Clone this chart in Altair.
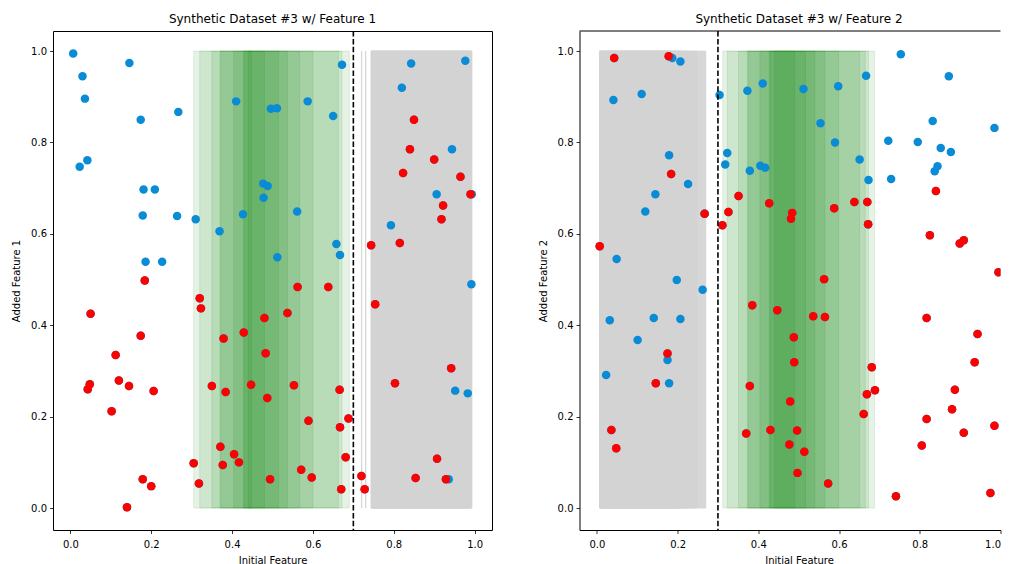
import altair as alt
import pandas as pd

# ---------------- Panel 1: Feature 1 ----------------
p1_blue_x = [0.007, 0.030, 0.036, 0.042, 0.023, 0.146, 0.174, 0.267, 0.181, 0.209,
             0.179, 0.264, 0.186, 0.227, 0.310, 0.369, 0.410, 0.427, 0.496, 0.511,
             0.477, 0.488, 0.478, 0.561, 0.587, 0.512, 0.650, 0.672, 0.658, 0.667,
             0.843, 0.820, 0.793, 0.977, 0.944, 0.906, 0.993, 0.992, 0.952, 0.983,
             0.936]
p1_blue_y = [0.995, 0.945, 0.896, 0.761, 0.747, 0.974, 0.850, 0.867, 0.697, 0.697,
             0.640, 0.639, 0.539, 0.539, 0.632, 0.606, 0.890, 0.643, 0.874, 0.875,
             0.710, 0.705, 0.679, 0.649, 0.890, 0.549, 0.858, 0.970, 0.578, 0.554,
             0.973, 0.920, 0.619, 0.979, 0.785, 0.687, 0.687, 0.490, 0.257, 0.251,
             0.063]
p1_red_x = [0.184, 0.050, 0.174, 0.112, 0.048, 0.043, 0.120, 0.145, 0.206, 0.102,
            0.179, 0.200, 0.140, 0.305, 0.318, 0.320, 0.323, 0.379, 0.429, 0.483,
            0.350, 0.384, 0.447, 0.553, 0.666, 0.487, 0.589, 0.688, 0.667, 0.371,
            0.405, 0.377, 0.417, 0.681, 0.571, 0.597, 0.494, 0.670, 0.720, 0.728,
            0.480, 0.537, 0.562, 0.638, 0.744, 0.754, 0.815, 0.850, 0.840, 0.900,
            0.823, 0.965, 0.990, 0.922, 0.918, 0.803, 0.942, 0.907, 0.854, 0.929]
p1_red_y = [0.498, 0.425, 0.377, 0.335, 0.271, 0.260, 0.279, 0.267, 0.256, 0.212,
            0.063, 0.048, 0.002, 0.098, 0.054, 0.459, 0.437, 0.371, 0.384, 0.339,
            0.267, 0.254, 0.270, 0.269, 0.259, 0.241, 0.191, 0.196, 0.177, 0.134,
            0.118, 0.094, 0.100, 0.111, 0.084, 0.067, 0.063, 0.041, 0.070, 0.041,
            0.416, 0.427, 0.484, 0.484, 0.575, 0.446, 0.580, 0.850, 0.785, 0.763,
            0.733, 0.725, 0.687, 0.662, 0.632, 0.273, 0.306, 0.108, 0.066, 0.063]
p1_green_lo = [0.305, 0.320, 0.350, 0.370, 0.372, 0.404, 0.428, 0.430, 0.440]
p1_green_hi = [0.690, 0.672, 0.663, 0.600, 0.567, 0.537, 0.515, 0.480, 0.448]
p1_gray_lo = [0.720, 0.730, 0.744, 0.744, 0.745, 0.746]
p1_gray_hi = [0.721, 0.731, 0.993, 0.990, 0.985, 0.993]
p1_threshold = 0.7

# ---------------- Panel 2: Feature 2 ----------------
p2_blue_x = [0.187, 0.207, 0.041, 0.111, 0.304, 0.373, 0.411, 0.512, 0.598, 0.667,
             0.554, 0.590, 0.722, 0.179, 0.323, 0.318, 0.405, 0.417, 0.379, 0.651,
             0.673, 0.729, 0.226, 0.145, 0.120, 0.049, 0.198, 0.262, 0.032, 0.141,
             0.207, 0.101, 0.175, 0.023, 0.179, 0.753, 0.872, 0.832, 0.985, 0.795,
             0.852, 0.877, 0.844, 0.837, 0.672, 0.267]
p2_blue_y = [0.985, 0.977, 0.893, 0.906, 0.904, 0.913, 0.929, 0.917, 0.923, 0.946,
             0.842, 0.800, 0.804, 0.772, 0.777, 0.752, 0.749, 0.745, 0.738, 0.763,
             0.718, 0.720, 0.709, 0.687, 0.649, 0.545, 0.499, 0.478, 0.411, 0.416,
             0.414, 0.368, 0.324, 0.291, 0.273, 0.993, 0.945, 0.847, 0.832, 0.801,
             0.788, 0.779, 0.748, 0.737, 0.621, 0.644]
p2_red_x = [0.043, 0.178, 0.184, 0.351, 0.267, 0.326, 0.311, 0.427, 0.484, 0.481,
            0.588, 0.638, 0.670, 0.672, 0.007, 0.175, 0.146, 0.036, 0.048, 0.488,
            0.489, 0.379, 0.681, 0.689, 0.669, 0.661, 0.479, 0.370, 0.430, 0.496,
            0.477, 0.514, 0.497, 0.573, 0.741, 0.840, 0.825, 0.899, 0.909, 0.995,
            0.943, 0.817, 0.936, 0.887, 0.880, 0.817, 0.805, 0.909, 0.985, 0.975,
            0.385, 0.447, 0.536, 0.565, 0.563]
p2_red_y = [0.985, 0.989, 0.731, 0.683, 0.644, 0.648, 0.619, 0.667, 0.646, 0.633,
            0.656, 0.670, 0.670, 0.621, 0.573, 0.338, 0.273, 0.171, 0.131, 0.374,
            0.319, 0.267, 0.308, 0.258, 0.249, 0.206, 0.233, 0.163, 0.171, 0.170,
            0.139, 0.123, 0.077, 0.054, 0.026, 0.694, 0.597, 0.579, 0.586, 0.516,
            0.381, 0.416, 0.319, 0.259, 0.216, 0.195, 0.137, 0.165, 0.180, 0.033,
            0.444, 0.433, 0.420, 0.418, 0.501]
p2_green_lo = [0.312, 0.323, 0.351, 0.373, 0.375, 0.404, 0.427, 0.429, 0.440]
p2_green_hi = [0.688, 0.673, 0.665, 0.651, 0.599, 0.565, 0.540, 0.517, 0.490]
p2_gray_lo = [0.007, 0.007, 0.010, 0.025, 0.007]
p2_gray_hi = [0.270, 0.248, 0.227, 0.207, 0.188]
p2_threshold = 0.3

TICKS = [0.0, 0.2, 0.4, 0.6, 0.8, 1.0]
Y_DOMAIN = [-0.048, 1.044]

BLUE = "#0a8bd6"
RED = "#ff0000"
GREEN = "#008000"
GRAY = "#d3d3d3"
FONT = "DejaVu Sans"

PLOT_H = 499


def panel(title, ytitle, bx, by, rx, ry, glo, ghi, slo, shi, thr,
          x_domain, width, cut_right=False, extra=0.0):
    pts = pd.DataFrame({
        "x": bx + rx,
        "y": by + ry,
        "label": ["blue"] * len(bx) + ["red"] * len(rx),
    })
    green = pd.DataFrame({"lo": glo, "hi": ghi})
    gray = pd.DataFrame({"lo": slo, "hi": shi})
    thr_df = pd.DataFrame({"t": [thr]})

    xs = alt.Scale(domain=x_domain, nice=False, zero=False)
    ys = alt.Scale(domain=Y_DOMAIN, nice=False, zero=False)
    if cut_right:
        xax = alt.Axis(values=TICKS, format=".1f", title="Initial Feature", grid=False,
                       labelFlush=True, domain=True, domainColor="black", domainWidth=1,
                       titleX=width / 2 + extra, titleAlign="center")
        yax = alt.Axis(values=TICKS, format=".1f", title=ytitle, grid=False,
                       domain=True, domainColor="black", domainWidth=1)
    else:
        xax = alt.Axis(values=TICKS, format=".1f", title="Initial Feature", grid=False)
        yax = alt.Axis(values=TICKS, format=".1f", title=ytitle, grid=False)

    green_layer = alt.Chart(green).mark_rect(
        fill=GREEN, fillOpacity=0.1, stroke=GREEN, strokeOpacity=0.1, strokeWidth=1
    ).encode(
        x=alt.X("lo:Q", scale=xs, axis=xax),
        x2="hi:Q",
        y=alt.YDatum(0, scale=ys, axis=yax),
        y2=alt.Y2Datum(1),
    )
    gray_layer = alt.Chart(gray).mark_rect(
        fill=GRAY, fillOpacity=0.9, stroke=GRAY, strokeOpacity=0.7, strokeWidth=1
    ).encode(
        x=alt.X("lo:Q", scale=xs, axis=xax),
        x2="hi:Q",
        y=alt.YDatum(0, scale=ys, axis=yax),
        y2=alt.Y2Datum(1),
    )
    blue_layer = alt.Chart(pts).mark_circle(
        size=72, opacity=1, color=BLUE, clip=True
    ).encode(
        x=alt.X("x:Q", scale=xs, axis=xax),
        y=alt.Y("y:Q", scale=ys, axis=yax),
    )
    red_layer = alt.Chart(pts).transform_filter(alt.datum.label == "red").mark_circle(
        size=72, opacity=1, color=RED, clip=True
    ).encode(
        x=alt.X("x:Q", scale=xs, axis=xax),
        y=alt.Y("y:Q", scale=ys, axis=yax),
    )
    rule = alt.Chart(thr_df).mark_rule(
        color="black", strokeDash=[5.5, 2.4], strokeWidth=1.6
    ).encode(x=alt.X("t:Q", scale=xs, axis=xax))

    layers = [green_layer, gray_layer, blue_layer, red_layer, rule]
    props = dict(
        width=width,
        height=PLOT_H,
        title=alt.Title(title, fontSize=12, font=FONT, fontWeight="normal",
                        offset=4, color="black", dx=extra),
    )
    if cut_right:
        top_edge = alt.Chart(thr_df).mark_rule(color="black", strokeWidth=1).encode(
            x=alt.value(0), x2=alt.value(width), y=alt.value(0)
        )
        layers.append(top_edge)
        props["view"] = alt.ViewConfig(stroke="transparent")
    return alt.layer(*layers).properties(**props)


c1 = panel("Synthetic Dataset #3 w/ Feature 1", "Added Feature 1",
           p1_blue_x, p1_blue_y, p1_red_x, p1_red_y,
           p1_green_lo, p1_green_hi, p1_gray_lo, p1_gray_hi, p1_threshold,
           [-0.043, 1.043], 439)
c2 = panel("Synthetic Dataset #3 w/ Feature 2", "Added Feature 2",
           p2_blue_x, p2_blue_y, p2_red_x, p2_red_y,
           p2_green_lo, p2_green_hi, p2_gray_lo, p2_gray_hi, p2_threshold,
           [-0.043, 1.0], 421, cut_right=True, extra=9)

chart = alt.hconcat(c1, c2, spacing=44.5).properties(
    padding={"left": 3, "top": 4, "right": 0, "bottom": 0}
).configure_view(
    stroke="black", strokeWidth=1
).configure_axis(
    labelFont=FONT, titleFont=FONT, labelFontSize=10, titleFontSize=10,
    titleFontWeight="normal", tickSize=3.5, tickColor="black", domain=False,
    labelColor="black", titleColor="black", tickWidth=0.8,
).configure_axisY(titlePadding=9, labelPadding=3).configure_axisX(titlePadding=5.5, labelPadding=6)

chart.save("out.html", embed_options={"renderer": "svg", "actions": False})
